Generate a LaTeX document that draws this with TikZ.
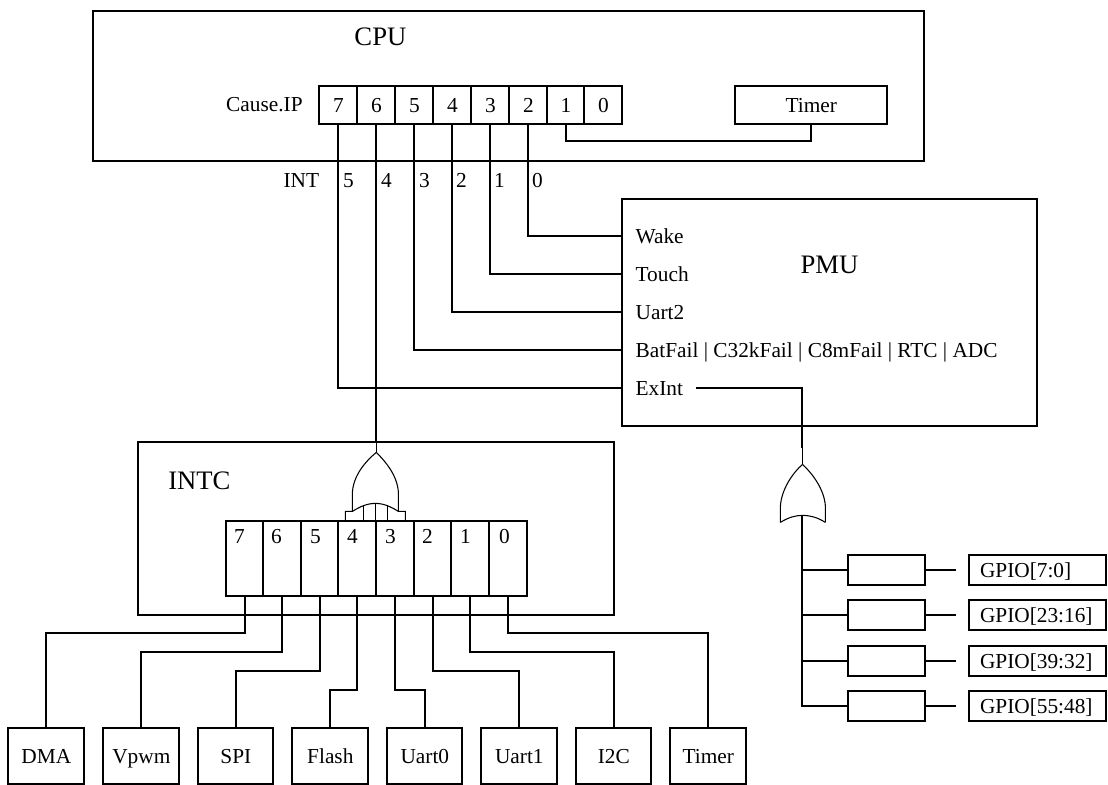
\documentclass[tikz,border=0pt]{standalone}
\usepackage{fontspec}
\setmainfont{Liberation Serif}
\tikzset{
  x=0.75pt,y=-0.75pt,
  box/.style={draw,line width=1.4pt,inner sep=0pt},
  wire/.style={draw,line width=1.4pt},
  thinw/.style={draw,line width=0.8pt},
  lab/.style={inner sep=0pt,text height=10.5pt,text depth=0pt,font=\fontsize{16}{16}\selectfont},
  biglab/.style={inner sep=0pt,text height=13pt,text depth=0pt,font=\fontsize{20}{20}\selectfont},
  llab/.style={lab,anchor=west},
}
\newcommand{\rectnode}[6]{% name x1 y1 x2 y2 text
  \node[box,lab,anchor=north west,minimum width=#4*0.75pt-#2*0.75pt,minimum height=#5*0.75pt-#3*0.75pt] (#1) at (#2,#3) {#6};}
\begin{document}
\begin{tikzpicture}
\useasboundingbox (0,0) rectangle (1108,785);
\begin{scope}[shift={(-0.6,-0.6)}]
% main boxes
\rectnode{cpu}{93}{11}{924}{161}{}
\rectnode{pmu}{622}{199}{1037}{426}{}
\rectnode{intc}{138}{442}{614}{615}{}
\node[biglab] (cputxt) at (381,37) {CPU};
\node[biglab] (pmutxt) at (830,265) {PMU};
\node[biglab] (intctxt) at (200,481) {INTC};
\node[lab] (cause) at (265,105) {Cause.IP};
\node[lab] (int) at (302,181) {INT};
% IP cells
\rectnode{ip7}{319}{86}{357}{124}{7}
\rectnode{ip6}{357}{86}{395}{124}{6}
\rectnode{ip5}{395}{86}{433}{124}{5}
\rectnode{ip4}{433}{86}{471}{124}{4}
\rectnode{ip3}{471}{86}{509}{124}{3}
\rectnode{ip2}{509}{86}{547}{124}{2}
\rectnode{ip1}{547}{86}{584}{124}{1}
\rectnode{ip0}{584}{86}{622}{124}{0}
\rectnode{cputimer}{735}{86}{887}{124}{Timer}
\draw[wire] (ip1.south) |- (cputimer.south |- 0,142) -- (cputimer.south);
% INT numbers
\node[lab] (n5) at (349,181) {5};
\node[lab] (n4) at (387,181) {4};
\node[lab] (n3) at (425,181) {3};
\node[lab] (n2) at (462,181) {2};
\node[lab] (n1) at (500,181) {1};
\node[lab] (n0) at (538,181) {0};
% PMU labels
\coordinate (pw) at (622,237);
\coordinate (pt) at (622,275);
\coordinate (pu) at (622,313);
\coordinate (pb) at (622,351);
\coordinate (pe) at (622,389);
\node[llab] (wake) at (636,237) {Wake};
\node[llab] (touch) at (636,275) {Touch};
\node[llab] (uart2) at (636,313) {Uart2};
\node[llab] (bat) at (636,351) {BatFail | C32kFail | C8mFail | RTC | ADC};
\node[llab] (exint) at (636,389) {ExInt};
\draw[wire] (ip2.south) |- (pw);
\draw[wire] (ip3.south) |- (pt);
\draw[wire] (ip4.south) |- (pu);
\draw[wire] (ip5.south) |- (pb);
\draw[wire] (ip7.south) |- (pe);
% INTC gate
\coordinate (g1) at (ip6.south |- 0,453);
\draw[wire] (ip6.south) -- (ip6.south |- 0,442);
\draw[thinw] (ip6.south |- 0,442) -- (g1);
\draw[thinw] (g1) .. controls (366,462) and (354,476) .. (353,493) -- (353,512) -- (346,512) -- (346,521);
\draw[thinw] (g1) .. controls (386,462) and (398,476) .. (399,493) -- (399,512) -- (406,512) -- (406,521);
\draw[thinw] (353,512) .. controls (361,507) and (368,504) .. (376,504) .. controls (384,504) and (391,507) .. (399,512);
\draw[thinw] (364,506) -- (364,521);
\draw[thinw] (376,504) -- (376,521);
\draw[thinw] (388,506) -- (388,521);
% INTC cells
\foreach \nm/\xa/\xb/\tx in {7/226/263/240,6/263/301/277,5/301/338/316,4/338/376/353,3/376/414/391,2/414/451/428,1/451/489/466,0/489/527/505}{
  \rectnode{ic\nm}{\xa}{521}{\xb}{596}{}
  \node[lab] (ict\nm) at (\tx,537) {\nm};
}
% bottom boxes
\rectnode{dma}{8}{728}{84}{784}{DMA}
\rectnode{vpwm}{103}{728}{179}{784}{Vpwm}
\rectnode{spi}{198}{728}{273}{784}{SPI}
\rectnode{flash}{292}{728}{368}{784}{Flash}
\rectnode{uart0}{387}{728}{462}{784}{Uart0}
\rectnode{uart1}{481}{728}{557}{784}{Uart1}
\rectnode{itc}{576}{728}{651}{784}{I2C}
\rectnode{timer}{670}{728}{746}{784}{Timer}
\draw[wire] (ic7.south) |- (dma.north |- 0,634) -- (dma.north);
\draw[wire] (ic6.south) |- (vpwm.north |- 0,653) -- (vpwm.north);
\draw[wire] (ic5.south) |- (spi.north |- 0,672) -- (spi.north);
\draw[wire] (ic4.south) |- (flash.north |- 0,691) -- (flash.north);
\draw[wire] (ic3.south) |- (uart0.north |- 0,691) -- (uart0.north);
\draw[wire] (ic2.south) |- (uart1.north |- 0,672) -- (uart1.north);
\draw[wire] (ic1.south) |- (itc.north |- 0,653) -- (itc.north);
\draw[wire] (ic0.south) |- (timer.north |- 0,634) -- (timer.north);
% OR gate right
\coordinate (ex) at (697,389);
\coordinate (g2) at (803,465);
\coordinate (gb) at (803,516);
\draw[wire] (ex) -- (803,389) -- (803,449);
\draw[thinw] (803,449) -- (g2);
\draw[thinw] (g2) .. controls (793,474) and (782,490) .. (781,507) -- (781,523);
\draw[thinw] (g2) .. controls (813,474) and (825,490) .. (826,507) -- (826,523);
\draw[thinw] (781,523) .. controls (789,518) and (796,516) .. (803,516) .. controls (811,516) and (818,518) .. (826,523);
% GPIO
\rectnode{b1}{848}{555}{925}{585}{}
\rectnode{b2}{848}{600}{925}{630}{}
\rectnode{b3}{848}{646}{925}{676}{}
\rectnode{b4}{848}{691}{925}{721}{}
\foreach \i/\ya/\yb/\tx in {1/555/585/GPIO[7:0],2/600/630/GPIO[23:16],3/646/676/GPIO[39:32],4/691/721/GPIO[55:48]}{
  \rectnode{gp\i}{969}{\ya}{1106}{\yb}{}
  \node[llab] (gpt\i) at ([xshift=8.5pt]gp\i.west) {\tx};
}
\draw[wire] (gb) |- (b4.west);
\draw[wire] (b1.west -| gb) -- (b1.west);
\draw[wire] (b2.west -| gb) -- (b2.west);
\draw[wire] (b3.west -| gb) -- (b3.west);
\foreach \i in {1,2,3,4}{
  \coordinate (e\i) at ([xshift=22.5pt]b\i.east);
  \draw[wire] (b\i.east) -- (e\i);
}
\end{scope}
\end{tikzpicture}
\end{document}
